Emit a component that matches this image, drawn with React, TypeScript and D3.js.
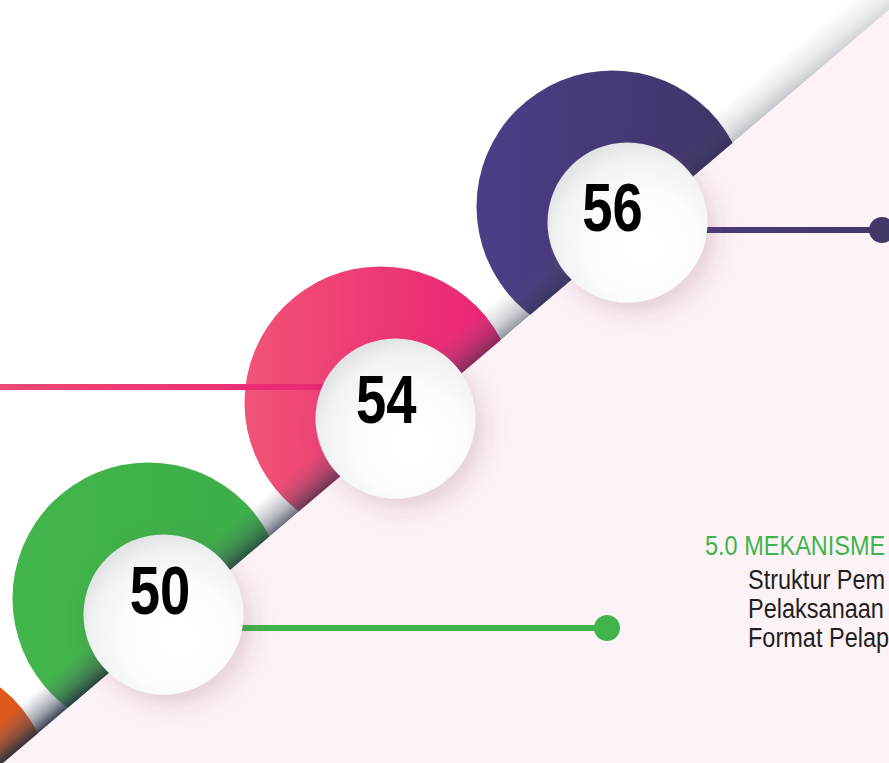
import React from "react";
import * as d3 from "d3";

const W = 889;
const H = 763;

// Data
const labels = ["", "50", "54", "56"];
const ringLeft = ["#e8611f", "#42b54b", "#f15376", "#4b3e88"];
const ringRight = ["#dc551b", "#3cae48", "#ea1f76", "#3f3466"];
const lineLeft = ["#e8611f", "#40b44b", "#ef4b74", "#4a3d85"];
const lineRight = ["#e8611f", "#40b44b", "#e91e74", "#433868"];
const hasConnector = [false, true, true, true];
const hasDot = [false, true, false, true];
const headingText = "5.0 MEKANISME";
const bulletLines = ["Struktur Pem", "Pelaksanaan", "Format Pelap"];

// Layout
const cx = d3.scaleLinear().domain([1, 3]).range([163.5, 627.5]);
const cy = d3.scaleLinear().domain([1, 3]).range([614.5, 222.5]);
const lx = d3.scaleLinear().domain([1, 3]).range([160, 612.5]);
const ly = d3.scaleLinear().domain([1, 3]).range([614, 231]);
const connectorEnd = [0, 607, -20, 882];
const connectorDy = [0, 13.5, -31.5, 7.5];
const cut = d3.scaleLinear().domain([0, W]).range([765.6, 10]);
const innerR = 80;
const outerR = 136;
const outerOff = { x: -15, y: -16 };
const FONT = "'Liberation Sans', Arial, sans-serif";

export default function App() {
  const xA = W + 60, xB = -60;
  const A = [xA, cut(xA)], B = [xB, cut(xB)];
  const dx = A[0] - B[0], dy = A[1] - B[1];
  const len = Math.hypot(dx, dy);
  const n = [dy / len, -dx / len];
  const nn = n[1] > 0 ? [-n[0], -n[1]] : n;
  const bandW = 34;
  const band = [A, B, [B[0] + nn[0] * bandW, B[1] + nn[1] * bandW], [A[0] + nn[0] * bandW, A[1] + nn[1] * bandW]];
  const mid = [(A[0] + B[0]) / 2, (A[1] + B[1]) / 2];
  const pinkPoly = [A, B, [xB, H + 100], [xA, H + 100]];
  const line = d3.line();
  const idxs = [0, 1, 2, 3];

  return (
    <svg width={W} height={H} style={{ position: "absolute", left: 0, top: 0 }}>
      <defs>
        {idxs.map((i) => (
          <linearGradient key={"rg" + i} id={"ring" + i} x1="0" y1="0" x2="1" y2="0">
            <stop offset="0" stopColor={ringLeft[i]} />
            <stop offset="1" stopColor={ringRight[i]} />
          </linearGradient>
        ))}
        {idxs.map((i) => (
          <linearGradient key={"lg" + i} id={"ln" + i} x1="0" y1="0" x2="1" y2="0">
            <stop offset="0" stopColor={lineLeft[i]} />
            <stop offset="1" stopColor={lineRight[i]} />
          </linearGradient>
        ))}
        <linearGradient id="bandPerp" gradientUnits="userSpaceOnUse"
          x1={mid[0]} y1={mid[1]} x2={mid[0] + nn[0] * bandW} y2={mid[1] + nn[1] * bandW}>
          <stop offset="0" stopColor="#26303f" stopOpacity="1" />
          <stop offset="0.35" stopColor="#3a4455" stopOpacity="0.55" />
          <stop offset="1" stopColor="#6a7280" stopOpacity="0" />
        </linearGradient>
        <linearGradient id="bandLen" gradientUnits="userSpaceOnUse" x1={W} y1={cut(W)} x2={0} y2={cut(0)}>
          <stop offset="0" stopColor="#2e2e2e" />
          <stop offset="0.5" stopColor="#8c8c8c" />
          <stop offset="1" stopColor="#f5f5f5" />
        </linearGradient>
        <mask id="bandMask" maskUnits="userSpaceOnUse" x="-100" y="-100" width={W + 200} height={H + 200}>
          <rect x="-100" y="-100" width={W + 200} height={H + 200} fill="url(#bandLen)" />
        </mask>
        <radialGradient id="ball" cx="0.58" cy="0.62" r="0.62" fx="0.6" fy="0.66">
          <stop offset="0" stopColor="#ffffff" />
          <stop offset="0.55" stopColor="#fcfcfc" />
          <stop offset="0.85" stopColor="#f1f2f3" />
          <stop offset="1" stopColor="#e3e4e6" />
        </radialGradient>
        <filter id="ballShadow" x="-40%" y="-40%" width="190%" height="190%">
          <feDropShadow dx="8" dy="10" stdDeviation="12" floodColor="#7a3a5c" floodOpacity="0.2" />
        </filter>
      </defs>

      <rect x={0} y={0} width={W} height={H} fill="#ffffff" />

      {idxs.map((i) => (
        <circle key={"ring" + i} cx={cx(i) + outerOff.x} cy={cy(i) + outerOff.y} r={outerR} fill={`url(#ring${i})`} />
      ))}

      <path d={line(band as any) + "Z"} fill="url(#bandPerp)" mask="url(#bandMask)" />

      <path d={line(pinkPoly as any) + "Z"} fill="#fdf3f7" />

      {idxs.filter((i) => hasConnector[i]).map((i) => (
        <g key={"con" + i}>
          <rect
            x={Math.min(cx(i), connectorEnd[i])}
            y={cy(i) + connectorDy[i] - 3}
            width={Math.abs(connectorEnd[i] - cx(i))}
            height={6}
            fill={`url(#ln${i})`}
          />
          {hasDot[i] && <circle cx={connectorEnd[i]} cy={cy(i) + connectorDy[i]} r={13} fill={lineRight[i]} />}
        </g>
      ))}

      {idxs.filter((i) => labels[i] !== "").map((i) => (
        <g key={"ball" + i}>
          <circle cx={cx(i)} cy={cy(i)} r={innerR} fill="url(#ball)" filter="url(#ballShadow)" />
          <text
            transform={`translate(${lx(i)},${ly(i)}) scale(0.8,1)`}
            textAnchor="middle"
            fontFamily={FONT}
            fontWeight="bold"
            fontSize={68}
            fill="#000000"
          >
            {labels[i]}
          </text>
        </g>
      ))}

      <g fontFamily={FONT} fontSize={28}>
        <text transform="translate(705,555) scale(0.84,1)" fill="#40b44b">{headingText}</text>
        {bulletLines.map((t, k) => (
          <text key={t} transform={`translate(748,${589 + k * 29}) scale(0.84,1)`} fill="#231f20">{t}</text>
        ))}
      </g>
    </svg>
  );
}
